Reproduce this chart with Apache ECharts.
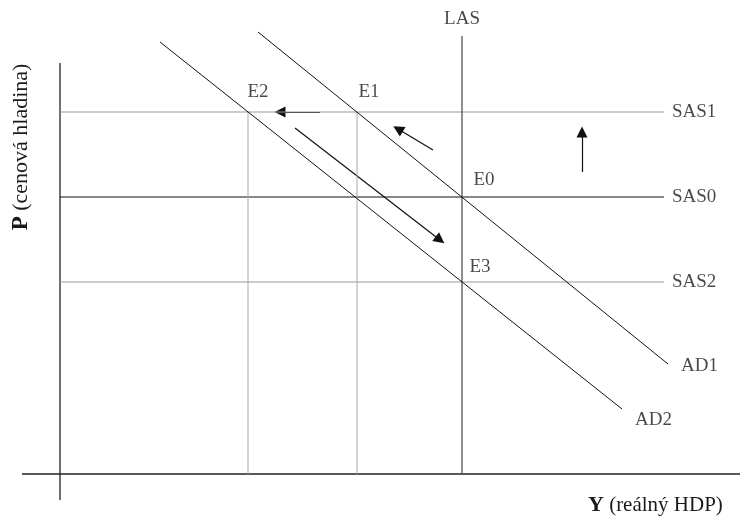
<!DOCTYPE html>
<html>
<head>
<meta charset="utf-8">
<script src="https://cdn.jsdelivr.net/npm/echarts@6/dist/echarts.min.js"></script>
<style>
  html, body { margin: 0; padding: 0; background: #fff; }
  #chart { width: 746px; height: 524px; }
</style>
</head>
<body>
<div id="chart"></div>
<script>
// diagram units: Y to the right, P upwards, origin where the axes cross
var yLas = 402;                       // potential output
var pLevels = { SAS1: 362, SAS0: 277, SAS2: 192 };
var yE1 = 297, yE2 = 188;             // output at E1 and E2
var ad1 = [[198, 442], [608, 110]];
var ad2 = [[100, 432], [562, 65]];
var axisX = [[-38, 0], [680, 0]];
var axisY = [[0, 411], [0, -26]];
var arrows = [
  [[260, 362], [220, 362]],
  [[373, 324], [338, 345]],
  [[522, 302], [522, 342]],
  [[235, 346], [380, 234]]
];
var pointLabels = [
  { name: 'E2', value: [198, 382] },
  { name: 'E1', value: [309, 382] },
  { name: 'E0', value: [424, 294] },
  { name: 'E3', value: [420, 207] },
  { name: 'LAS', value: [402, 455] }
];
var curveLabels = [
  { name: 'SAS1', value: [612, 362] },
  { name: 'SAS0', value: [612, 277] },
  { name: 'SAS2', value: [612, 192] },
  { name: 'AD1', value: [621, 108] },
  { name: 'AD2', value: [575, 54] }
];

var myChart = echarts.init(document.getElementById('chart'));
var font = '"Liberation Serif", "Times New Roman", serif';

function seg(data, color, width) {
  return {
    type: 'line',
    data: data,
    symbol: 'none',
    silent: true,
    lineStyle: { color: color, width: width || 1 }
  };
}

var series = [
  seg(axisX, '#222', 1.3),
  seg(axisY, '#222', 1.3),
  seg([[0, pLevels.SAS1], [604, pLevels.SAS1]], '#999'),
  seg([[0, pLevels.SAS0], [604, pLevels.SAS0]], '#111', 1.2),
  seg([[0, pLevels.SAS2], [604, pLevels.SAS2]], '#999'),
  seg([[yE2, 0], [yE2, pLevels.SAS1]], '#aaa'),
  seg([[yE1, 0], [yE1, pLevels.SAS1]], '#aaa'),
  seg([[yLas, 0], [yLas, 438]], '#444', 1.2),
  seg(ad1, '#111'),
  seg(ad2, '#111'),
  {
    type: 'lines',
    coordinateSystem: 'cartesian2d',
    silent: true,
    symbol: ['none', 'triangle'],
    symbolSize: 11,
    lineStyle: { color: '#111', width: 1.2, opacity: 1 },
    data: arrows.map(function (a) { return { coords: a }; })
  },
  {
    type: 'scatter',
    symbolSize: 0,
    silent: true,
    data: pointLabels,
    label: {
      show: true, position: 'inside', formatter: '{b}',
      color: '#1a1a1a', fontSize: 19, fontFamily: font
    }
  },
  {
    type: 'scatter',
    symbolSize: 0,
    silent: true,
    data: curveLabels,
    label: {
      show: true, position: 'right', distance: 0, formatter: '{b}',
      color: '#1a1a1a', fontSize: 19, fontFamily: font
    }
  }
];

var option = {
  animation: false,
  grid: { left: 0, right: 0, top: 0, bottom: 0 },
  xAxis: { type: 'value', min: -60, max: 686, show: false },
  yAxis: { type: 'value', min: -50, max: 474, show: false },
  graphic: [
    {
      type: 'text',
      x: 21, y: 147,
      rotation: Math.PI / 2,
      style: {
        text: '{b|P} (cenová hladina)',
        fontSize: 22, fontFamily: font, fill: '#1a1a1a',
        align: 'center', verticalAlign: 'middle',
        rich: { b: { fontWeight: 'bold', fontSize: 23, fontFamily: font } }
      }
    },
    {
      type: 'text',
      x: 588, y: 505,
      style: {
        text: '{b|Y} (reálný HDP)',
        fontSize: 21, fontFamily: font, fill: '#1a1a1a',
        verticalAlign: 'middle',
        rich: { b: { fontWeight: 'bold', fontSize: 22, fontFamily: font } }
      }
    }
  ],
  series: series
};

myChart.setOption(option);

window.addEventListener('resize', function () {
  myChart.resize();
});
</script>
</body>
</html>
